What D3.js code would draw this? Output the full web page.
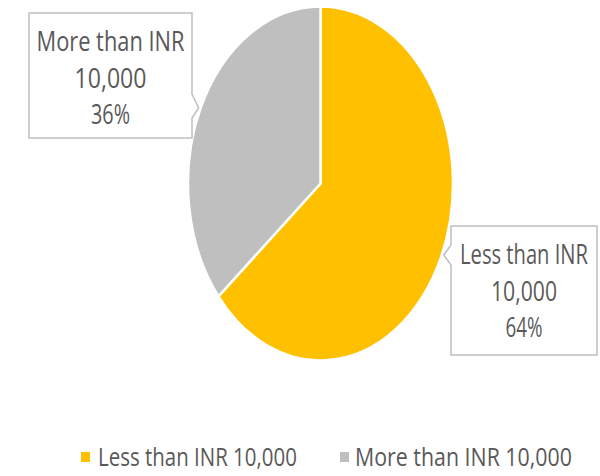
<!DOCTYPE html>
<html>
<head>
<meta charset="utf-8">
<script src="https://cdn.jsdelivr.net/npm/d3@7"></script>
<style>
  html, body { margin: 0; padding: 0; background: #ffffff; }
  svg { display: block; }
  text { font-family: "Open Sans", "Noto Sans", sans-serif; fill: #595959; }
</style>
</head>
<body>
<svg id="chart" width="600" height="476"></svg>
<script>
// ---- data ----
const categories = ["Less than INR 10,000", "More than INR 10,000"];
const values = [64, 36];
const labelLine1 = ["Less than INR", "More than INR"];
const labelLine2 = ["10,000", "10,000"];
const legendLabels = ["Less than INR 10,000", "More than INR 10,000"];

// ---- styles / layout ----
const colors = ["#FFC000", "#BFBFBF"];
const W = 600, H = 476;
const cx = 320.5, cy = 183.5, rx = 132.5, ry = 177;

const svg = d3.select("#chart");
svg.append("rect").attr("width", W).attr("height", H).attr("fill", "#fff");

const pie = d3.pie().sort(null).value(d => d)(values);
const arc = d3.arc().innerRadius(0).outerRadius(rx);
const colorScale = d3.scaleOrdinal().domain(categories).range(colors);

const g = svg.append("g")
  .attr("transform", `translate(${cx},${cy}) scale(1,${ry / rx})`);
g.selectAll("path").data(pie).join("path")
  .attr("d", arc)
  .attr("fill", (d, i) => colorScale(categories[i]))
  .attr("stroke", "#ffffff")
  .attr("stroke-width", 2.5)
  .attr("vector-effect", "non-scaling-stroke");

// condensed text: draw then squeeze horizontally to a target width
function squeezedText(parent, str, x, y, fontSize, targetW, anchor) {
  const grp = parent.append("g");
  const t = grp.append("text").attr("x", 0).attr("y", 0)
    .attr("font-size", fontSize)
    .attr("text-anchor", anchor)
    .text(str);
  const natural = t.node().getComputedTextLength() || targetW;
  const sx = targetW / natural;
  grp.attr("transform", `translate(${x},${y}) scale(${sx},1)`);
  return grp;
}

// ---- callout labels ----
const boxes = [
  { x: 451, y: 226, w: 146, h: 129, side: "left", n1: 245, n2: 265, tipY: 255, widths: [128, 66, 37] },
  { x: 29, y: 13, w: 163, h: 125, side: "right", n1: 94, n2: 118, tipY: 108, widths: [148, 72, 39] }
];
function edgeX(y, side) {
  const t = (y - cy) / ry;
  const dx = rx * Math.sqrt(Math.max(0, 1 - t * t));
  return side === "left" ? cx + dx + 2 : cx - dx - 2;
}
const fmtPct = d => Math.round(d) + "%";
const total = d3.sum(values);

boxes.forEach((b, i) => {
  const tipX = edgeX(b.tipY, b.side);
  let p;
  if (b.side === "right") {
    p = `M${b.x},${b.y}H${b.x + b.w}V${b.n1}L${tipX},${b.tipY}L${b.x + b.w},${b.n2}V${b.y + b.h}H${b.x}Z`;
  } else {
    p = `M${b.x},${b.y}H${b.x + b.w}V${b.y + b.h}H${b.x}V${b.n2}L${tipX},${b.tipY}L${b.x},${b.n1}Z`;
  }
  svg.append("path").attr("d", p)
    .attr("fill", "#ffffff").attr("stroke", "#BFBFBF").attr("stroke-width", 1.5);
  const lines = [labelLine1[i], labelLine2[i], fmtPct(values[i] / total * 100)];
  const mid = b.x + b.w / 2;
  lines.forEach((t, k) => {
    squeezedText(svg, t, mid, b.y + 38 + k * 36.5, 27, b.widths[k], "middle");
  });
});

// ---- legend ----
const legendItems = [
  { sx: 81, tx: 98, tw: 199 },
  { sx: 340, tx: 355, tw: 217 }
];
legendItems.forEach((l, i) => {
  svg.append("rect").attr("x", l.sx).attr("y", 452).attr("width", 9).attr("height", 10)
    .attr("fill", colors[i]);
  squeezedText(svg, legendLabels[i], l.tx, 466, 25, l.tw, "start");
});
</script>
</body>
</html>
